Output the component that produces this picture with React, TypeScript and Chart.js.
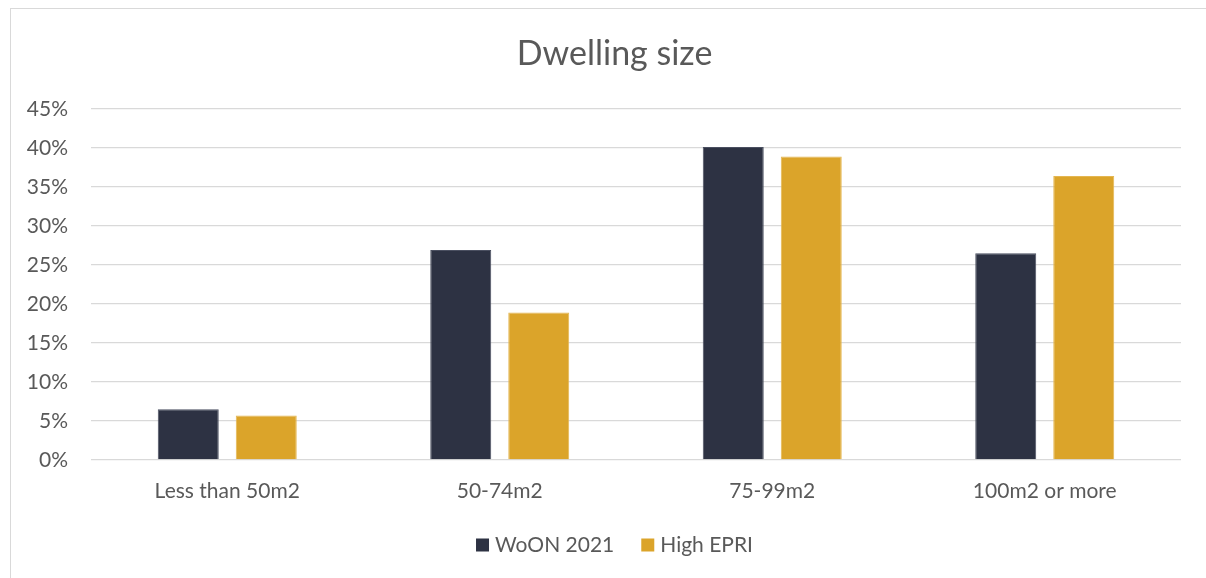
import { useEffect, useRef } from "react";
import { Chart, registerables } from "chart.js";

Chart.register(...registerables);

// Dwelling size distribution (% of dwellings)
const categories = ["Less than 50m2", "50-74m2", "75-99m2", "100m2 or more"];
const woon2021 = [6.5, 26.9, 40.1, 26.5];
const highEpri = [5.7, 18.9, 38.9, 36.4];
const seriesLabels = ["WoON 2021", "High EPRI"];
const seriesColors = ["#2D3243", "#DBA42A"];
const yMax = 45;
const yStep = 5;

const FONT = "Lato, 'Open Sans', sans-serif";
const TEXT = "#595959";

// Legend drawn as a centred row of square swatches under the axis labels
const bottomLegend = {
  id: "bottomLegend",
  afterDraw(chart: any) {
    const { ctx } = chart;
    ctx.save();
    ctx.font = `21px ${FONT}`;
    const items = chart.data.datasets.map((ds: any) => ({
      text: ds.label as string,
      color: ds.backgroundColor as string,
      w: ctx.measureText(ds.label).width,
    }));
    const box = 13;
    const gap = 6;
    const spacing = 27;
    const total =
      items.reduce((s: number, it: any) => s + box + gap + it.w, 0) +
      spacing * (items.length - 1);
    let x = chart.width / 2 - total / 2;
    const y = chart.chartArea.bottom + 85;
    ctx.textBaseline = "middle";
    ctx.textAlign = "left";
    items.forEach((it: any) => {
      ctx.fillStyle = it.color;
      ctx.fillRect(x, y - box / 2, box, box);
      x += box + gap;
      ctx.fillStyle = TEXT;
      ctx.fillText(it.text, x, y);
      x += it.w + spacing;
    });
    ctx.restore();
  },
};

export default function App() {
  const canvasRef = useRef<HTMLCanvasElement | null>(null);

  useEffect(() => {
    const canvas = canvasRef.current;
    if (!canvas) return;
    const chart = new Chart(canvas, {
      type: "bar",
      data: {
        labels: categories,
        datasets: [
          {
            label: seriesLabels[0],
            data: woon2021,
            backgroundColor: seriesColors[0],
            borderColor: "#4a4f60",
            borderWidth: 1,
          },
          {
            label: seriesLabels[1],
            data: highEpri,
            backgroundColor: seriesColors[1],
            borderColor: "#e4b650",
            borderWidth: 1,
          },
        ],
      },
      options: {
        responsive: false,
        animation: false,
        datasets: {
          bar: { categoryPercentage: 0.5725, barPercentage: 0.782 },
        },
        layout: { padding: { left: 0, right: 0, top: 0, bottom: 77 } },
        plugins: {
          legend: { display: false },
          tooltip: { enabled: false },
          title: {
            display: true,
            text: "Dwelling size",
            color: TEXT,
            font: { family: FONT, size: 34, weight: "normal" as any },
            padding: { top: 25, bottom: 34 },
          },
        },
        scales: {
          x: {
            grid: { display: false, drawTicks: false },
            border: { display: false },
            ticks: {
              color: TEXT,
              font: { family: FONT, size: 21 },
              padding: 19,
              maxRotation: 0,
            },
            afterFit(scale: any) {
              scale.height = 60;
            },
          },
          y: {
            min: 0,
            max: yMax,
            grid: { color: "#d9d9d9", lineWidth: 1.3, drawTicks: false },
            border: { display: false },
            ticks: {
              stepSize: yStep,
              color: TEXT,
              font: { family: FONT, size: 21 },
              padding: 23,
              callback: (v: any) => `${v}%`,
            },
            afterFit(scale: any) {
              scale.width = 80;
            },
          },
          // empty right-hand margin beside the plot
          yRight: {
            position: "right",
            min: 0,
            max: yMax,
            grid: { display: false, drawTicks: false },
            border: { display: false },
            ticks: { display: false },
            afterFit(scale: any) {
              scale.width = 37;
            },
          },
        },
      },
      plugins: [bottomLegend],
    });
    return () => chart.destroy();
  }, []);

  return (
    <div
      style={{
        position: "fixed",
        left: 0,
        top: 0,
        width: 1206,
        height: 578,
        overflow: "hidden",
        background: "#ffffff",
      }}
    >
      <div
        style={{
          position: "absolute",
          left: 10,
          top: 8,
          width: 1209,
          height: 590,
          boxSizing: "border-box",
          border: "1px solid #d9d9d9",
          background: "#ffffff",
        }}
      >
        <canvas
          ref={canvasRef}
          width={1207}
          height={588}
          style={{ display: "block", width: 1207, height: 588 }}
        />
      </div>
    </div>
  );
}
